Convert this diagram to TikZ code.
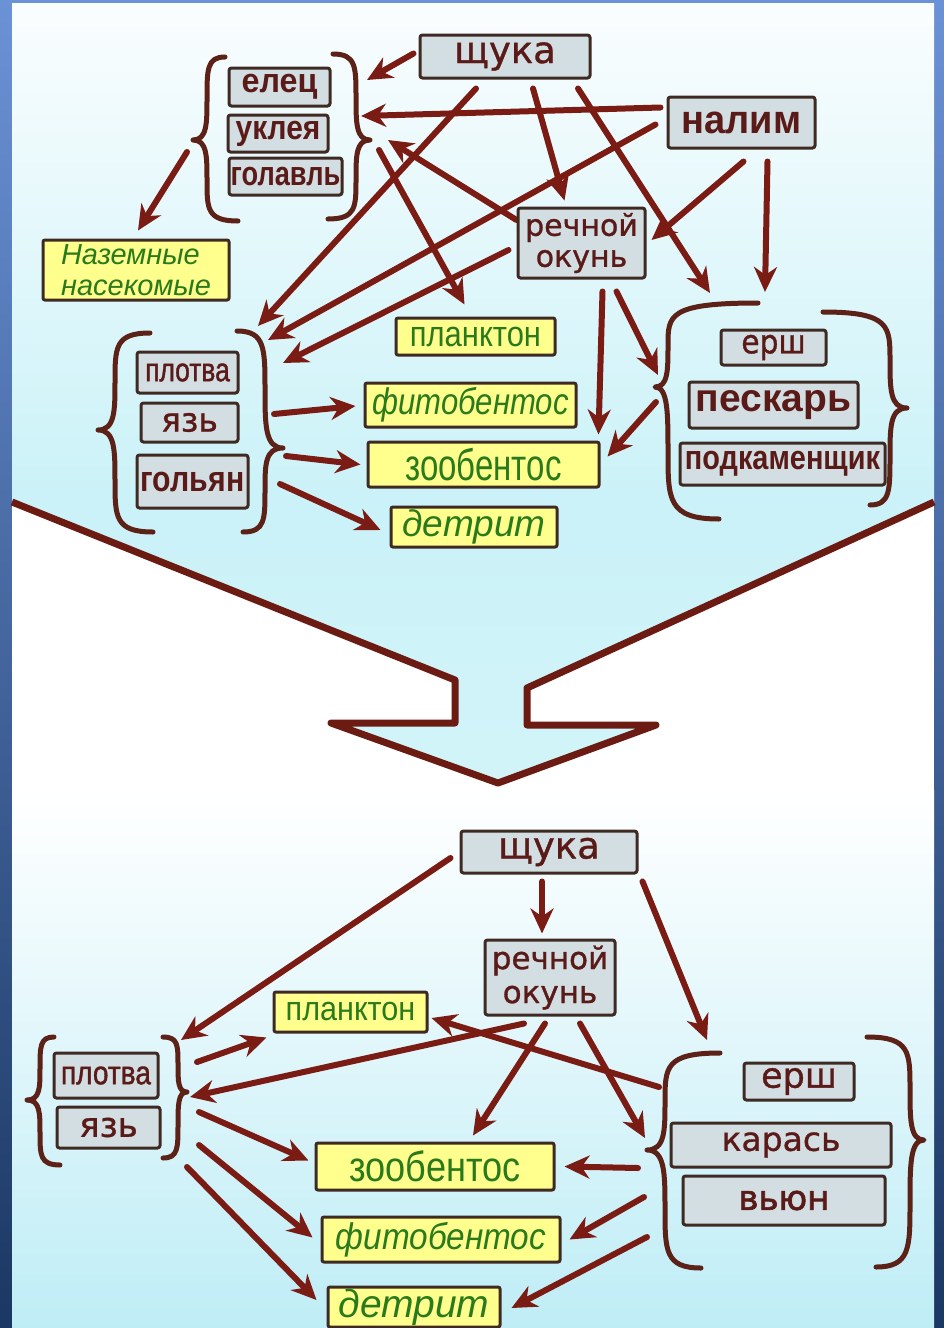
\documentclass[tikz,border=0pt]{standalone}
\usepackage{fontspec}
\usetikzlibrary{arrows.meta,calc}
\newfontfamily\fdj{DejaVu Sans}
\newfontfamily\flib{Liberation Sans}
\newcommand\fsz[1]{\fontsize{#1}{#1}\selectfont}
\newcommand\fst[1]{\addfontfeature{FakeStretch=#1}}
\newcommand\fbd[1]{\addfontfeature{FakeBold=#1}}
\definecolor{arrc}{HTML}{7B1C14}
\definecolor{bracec}{HTML}{5C2217}
\definecolor{boxc}{HTML}{3E2A22}
\definecolor{fishc}{HTML}{D3DEE2}
\definecolor{fishtxt}{HTML}{5A1A18}
\definecolor{foodc}{HTML}{FFFF8E}
\definecolor{foodtxt}{HTML}{2A7A1C}
\definecolor{func}{HTML}{6C1B13}
\definecolor{bgtop}{HTML}{6B92D6}
\definecolor{bgmid}{HTML}{86AAD8}
\definecolor{bgbot}{HTML}{1B3763}
\definecolor{pantop}{HTML}{FAFDFE}
\definecolor{pancyan}{HTML}{CAF2F8}
\definecolor{panbot}{HTML}{BFEDF6}
\pgfdeclarelayer{back}
\pgfdeclarelayer{mid}
\pgfsetlayers{back,mid,main}
\tikzset{
  fish/.style={draw=boxc, line width=3pt, fill=fishc, rounded corners=2.5pt, text=fishtxt, inner sep=0pt, align=center},
  food/.style={draw=boxc, line width=3pt, fill=foodc, rounded corners=2pt, text=foodtxt, inner sep=0pt, align=center},
  arr/.style={draw=arrc, line width=6pt, line cap=round, -{Stealth[length=25pt,width=23pt,inset=8pt]}},
  brc/.style={draw=bracec, line width=5pt, line cap=round, line join=round},
}
\newcommand\mybrace[7]{%
  \draw[brc] (#1,#2) .. controls (#3,#2) and (#3,{#2+0.15*(#5-#2)}) .. (#3,{#2+0.5*(#5-#2)})
   .. controls (#3,{#5-0.2*(#5-#2)}) and (#3,#5) .. (#4,#5)
   .. controls (#3,#5) and (#3,{#5+0.2*(#7-#5)}) .. (#3,{#5+0.5*(#7-#5)})
   .. controls (#3,{#7-0.15*(#7-#5)}) and (#3,#7) .. (#6,#7);}
\begin{document}
\begin{tikzpicture}[x=1pt,y=-1pt]
\useasboundingbox (0,0) rectangle (944,1328);
\begin{pgfonlayer}{back}
  \shade[top color=bgtop, middle color=bgmid, bottom color=bgbot] (0,0) rectangle (944,1328);
  \fill[white] (12,3) rectangle (934,1328);
  \shade[top color=pantop, bottom color=pancyan] (12,3) rectangle (934,502);
  \shade[top color=pancyan, bottom color=pancyan!85!white] (12,502) -- (455,680) -- (455,723) -- (331,723) -- (498,783) -- (656,725) -- (527,725) -- (527,688) -- (934,502) -- cycle;
  \shade[top color=white, bottom color=panbot] (12,790) rectangle (934,1328);
  \draw[line width=7pt, draw=func, line join=round] (12,502) -- (455,680) -- (455,723) -- (331,723) -- (498,783) -- (656,725) -- (527,725) -- (527,688) -- (934,502);
\end{pgfonlayer}

% ---------- upper web: nodes ----------
\node[fish, minimum width=170pt, minimum height=43pt, font={\fdj\fsz{37}\fbd{1}}] (tShchuka) at (505,56.5) {щука};
\node[fish, minimum width=147pt, minimum height=51pt, font={\flib\bfseries\fsz{40}\fst{0.95}}] (tNalim) at (741.5,122.5) {налим};
\node[fish, minimum width=101pt, minimum height=38pt, font={\flib\bfseries\fsz{34}\fst{0.95}}] (tElets) at (279.5,87) {елец};
\node[fish, minimum width=100pt, minimum height=37pt, font={\flib\bfseries\fsz{34}\fst{0.88}}] (tUklea) at (278,133.5) {уклея};
\node[fish, minimum width=113pt, minimum height=37pt, font={\flib\bfseries\fsz{34}\fst{0.8}}] (tGolavl) at (285.5,176.5) {голавль};
\node[food, minimum width=186pt, minimum height=60pt, align=left, font={\flib\itshape\fontsize{29}{31}\selectfont}] (tInsects) at (136,270) {Наземные\\насекомые};
\node[fish, minimum width=127pt, minimum height=70pt, font={\fdj\fontsize{30}{31}\selectfont\fbd{1}}] (tOkun) at (581.5,243) {речной\\окунь};
\node[fish, minimum width=101pt, minimum height=41pt, font={\flib\fsz{33}\fst{0.8}\fbd{1.2}}] (tPlotva) at (187.5,372.5) {плотва};
\node[fish, minimum width=97pt, minimum height=39pt, font={\fdj\fsz{33}\fbd{1}}] (tYaz) at (189.5,422.5) {язь};
\node[fish, minimum width=111pt, minimum height=53pt, font={\flib\bfseries\fsz{36}\fst{0.84}}] (tGolyan) at (192.5,481.5) {гольян};
\node[food, minimum width=159pt, minimum height=37pt, font={\flib\fsz{36}\fst{0.86}}] (tPlankton) at (475.5,336.5) {планктон};
\node[food, minimum width=211pt, minimum height=44pt, font={\flib\itshape\fsz{37}\fst{0.84}}] (tFito) at (470.5,405) {фитобентос};
\node[food, minimum width=231pt, minimum height=45pt, font={\flib\fsz{44}\fst{0.75}}] (tZoo) at (483.5,464.5) {зообентос};
\node[food, minimum width=166pt, minimum height=40pt, font={\flib\itshape\fsz{37}}] (tDetrit) at (474,527) {детрит};
\node[fish, minimum width=105pt, minimum height=35pt, font={\fdj\fsz{33}\fst{0.9}\fbd{1}}] (tErsh) at (773.5,347.5) {ерш};
\node[fish, minimum width=169pt, minimum height=46pt, font={\flib\bfseries\fsz{39}}] (tPeskar) at (773.5,405) {пескарь};
\node[fish, minimum width=205pt, minimum height=42pt, font={\flib\bfseries\fsz{34}\fst{0.85}}] (tPodkam) at (782.5,464) {подкаменщик};

% ---------- lower web: nodes ----------
\node[fish, minimum width=176pt, minimum height=42pt, font={\fdj\fsz{37}\fbd{1}}] (bShchuka) at (549,852) {щука};
\node[fish, minimum width=130pt, minimum height=75pt, font={\fdj\fontsize{31}{34}\selectfont\fbd{1}}] (bOkun) at (550,977.5) {речной\\окунь};
\node[food, minimum width=153pt, minimum height=40pt, font={\flib\fsz{34}\fst{0.9}}] (bPlankton) at (350.5,1012) {планктон};
\node[fish, minimum width=104pt, minimum height=45pt, font={\flib\fsz{33}\fst{0.85}\fbd{1.2}}] (bPlotva) at (106,1075.5) {плотва};
\node[fish, minimum width=103pt, minimum height=41pt, font={\fdj\fsz{34}\fbd{1}}] (bYaz) at (108.5,1127.5) {язь};
\node[fish, minimum width=110pt, minimum height=37pt, font={\fdj\fsz{35}\fbd{1}}] (bErsh) at (799,1081.5) {ерш};
\node[fish, minimum width=220pt, minimum height=44pt, font={\fdj\fsz{33}\fbd{1}}] (bKaras) at (781,1145) {карась};
\node[fish, minimum width=202pt, minimum height=49pt, font={\fdj\fsz{34}\fbd{2}}] (bVyun) at (784,1200.5) {вьюн};
\node[food, minimum width=238pt, minimum height=47pt, font={\flib\fsz{42}\fst{0.86}}] (bZoo) at (435,1166.5) {зообентос};
\node[food, minimum width=238pt, minimum height=45pt, font={\flib\itshape\fsz{37}\fst{0.9}}] (bFito) at (441,1239.5) {фитобентос};
\node[food, minimum width=172pt, minimum height=40pt, font={\flib\itshape\fsz{39}}] (bDetrit) at (414,1307) {детрит};

% ---------- group end points ----------
\coordinate (cA1) at (367,80);
\coordinate (cA2) at (361,116);
\coordinate (cA3) at (258,326);
\coordinate (cA5) at (710,293);
\coordinate (cA7) at (765,292);
\coordinate (cA8) at (268,340);
\coordinate (cA9) at (388,140);
\coordinate (cA10) at (379,150);
\coordinate (cA11) at (283,363);
\coordinate (cA12) at (187,152);
\coordinate (cA14) at (658,375);
\coordinate (cA15) at (656,402);
\coordinate (cA16) at (274,414);
\coordinate (cA17) at (286,456);
\coordinate (cA18) at (280,484);
\coordinate (cB1) at (181,1040);
\coordinate (cB3) at (707,1040);
\coordinate (cB4) at (197,1062);
\coordinate (cB5) at (190,1097);
\coordinate (cB6) at (659,1087);
\coordinate (cB8) at (645,1138);
\coordinate (cB9) at (638,1168);
\coordinate (cB10) at (644,1197);
\coordinate (cB11) at (647,1237);
\coordinate (cB12) at (199,1112);
\coordinate (cB13) at (199,1145);
\coordinate (cB14) at (187,1167);

\begin{pgfonlayer}{mid}
  % braces
  \mybrace{225}{57}{207}{193}{140}{238}{221}
  \mybrace{333}{54}{356}{370}{140}{328}{219}
  \mybrace{150}{333}{115}{98}{430}{153}{532}
  \mybrace{237}{331}{265}{283}{448}{243}{532}
  \mybrace{758}{303}{668}{655}{387}{719}{519}
  \mybrace{823}{312}{890}{907}{408}{870}{505}
  \mybrace{54}{1037}{40}{27}{1100}{60}{1165}
  \mybrace{163}{1037}{178}{187}{1092}{163}{1158}
  \mybrace{720}{1053}{665}{647}{1150}{701}{1268}
  \mybrace{867}{1037}{910}{924}{1140}{876}{1267}
  % upper arrows
  \draw[arr] ($(tShchuka.west)+(-5,-3)$) -- (cA1);
  \draw[arr] ($(tNalim.west)+(-6,-15)$) -- (cA2);
  \draw[arr] ($(tShchuka.south)+(-29,9)$) -- (cA3);
  \draw[arr] ($(tShchuka.south)+(28,9)$) -- ($(tOkun.north)+(-17,-6)$);
  \draw[arr] ($(tShchuka.south)+(73,9)$) -- (cA5);
  \draw[arr] ($(tNalim.south)+(2,12)$) -- ($(tOkun.east)+(5,-3)$);
  \draw[arr] ($(tNalim.south)+(26,12)$) -- (cA7);
  \draw[arr] ($(tNalim.west)+(-11,2)$) -- (cA8);
  \draw[arr] ($(tOkun.west)+(0,-23)$) -- (cA9);
  \draw[arr] (cA10) -- ($(tPlankton.north)+(-11,-12)$);
  \draw[arr] ($(tOkun.west)+(-8,7)$) -- (cA11);
  \draw[arr] (cA12) -- ($(tInsects.north)+(2,-8)$);
  \draw[arr] ($(tOkun.south)+(21,12)$) -- ($(tZoo.north east)+(-2,-6)$);
  \draw[arr] ($(tOkun.south)+(35,12)$) -- (cA14);
  \draw[arr] (cA15) -- ($(tZoo.east)+(7,-8)$);
  \draw[arr] (cA16) -- ($(tFito.west)+(-8,1)$);
  \draw[arr] (cA17) -- ($(tZoo.west)+(-6,0)$);
  \draw[arr] (cA18) -- ($(tDetrit.west)+(-9,3)$);
  % lower arrows
  \draw[arr] ($(bShchuka.west)+(-9,6)$) -- (cB1);
  \draw[arr] ($(bShchuka.south)+(-7,7)$) -- ($(bOkun.north)+(-8,-5)$);
  \draw[arr] ($(bShchuka.south east)+(4,7)$) -- (cB3);
  \draw[arr] (cB4) -- ($(bPlankton.south west)+(-6,4)$);
  \draw[arr] ($(bOkun.south)+(-26,7)$) -- (cB5);
  \draw[arr] (cB6) -- ($(bPlankton.east)+(3,6)$);
  \draw[arr] ($(bOkun.south)+(-5,7)$) -- ($(bZoo.north)+(38,-6)$);
  \draw[arr] ($(bOkun.south)+(30,7)$) -- (cB8);
  \draw[arr] (cB9) -- ($(bZoo.east)+(9,0)$);
  \draw[arr] (cB10) -- ($(bFito.east)+(8,0)$);
  \draw[arr] (cB11) -- ($(bDetrit.east)+(10,1)$);
  \draw[arr] (cB12) -- ($(bZoo.west)+(-6,-6)$);
  \draw[arr] (cB13) -- ($(bFito.west)+(-8,-2)$);
  \draw[arr] (cB14) -- ($(bDetrit.west)+(-10,-7)$);
\end{pgfonlayer}
\end{tikzpicture}
\end{document}
